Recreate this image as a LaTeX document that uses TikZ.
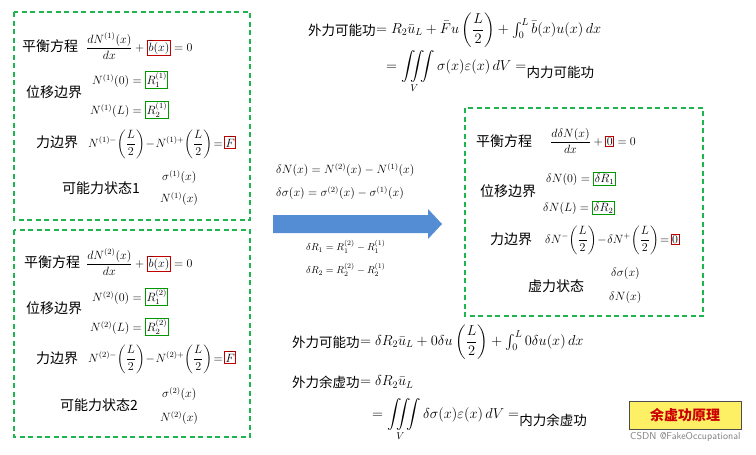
\documentclass[tikz,border=0pt]{standalone}
\usepackage{amsmath}
\usepackage{fontspec}
\newfontfamily\cjk{Noto Sans CJK SC}
\usetikzlibrary{calc}
\begin{document}
\begin{tikzpicture}[x=1pt,y=-1pt]
\definecolor{gframe}{RGB}{30,180,80}
\definecolor{arrblue}{RGB}{84,141,212}
\tikzset{
  frame/.style={draw=gframe, dash pattern=on 5pt off 3.5pt, line width=1.3pt},
  rb/.style={draw=red!75!black, line width=1pt, inner sep=1pt},
  gb/.style={draw=green!60!black, line width=1pt, inner sep=1pt},
  lab/.style={font=\cjk\fontsize{14}{16}\selectfont, anchor=west, inner sep=0pt},
  big/.style={font=\cjk\fontsize{13.5}{16}\selectfont, anchor=west, inner sep=0pt},
  eq/.style={font=\fontsize{12}{14}\selectfont, anchor=west, inner sep=0pt},
  beq/.style={font=\fontsize{14}{16}\selectfont, anchor=west, inner sep=0pt}}
\useasboundingbox (0,0) rectangle (756,455);
\fill[white] (0,0) rectangle (756,455);
% box 1
\draw[frame] (14,12) rectangle (250,220);
\node[lab] (a1) at (22,46) {平衡方程};
\node[eq] (e1) at (86,46) {$\dfrac{dN^{(1)}(x)}{dx}+\tikz[baseline]\node[rb,anchor=base]{$\bar b(x)$};=0$};
\node[lab] (a2) at (26,92) {位移边界};
\node[eq] (e2) at (92,80) {$N^{(1)}(0)=\tikz[baseline]\node[gb,anchor=base]{$R_1^{(1)}$};$};
\node[eq] (e3) at (90,110) {$N^{(1)}(L)=\tikz[baseline]\node[gb,anchor=base]{$R_2^{(1)}$};$};
\node[lab] (a3) at (36,142) {力边界};
\node[eq] (e4) at (88,144) {$N^{(1)-}\!\left(\dfrac{L}{2}\right)\!-\!N^{(1)+}\!\left(\dfrac{L}{2}\right)\!=\!\tikz[baseline]\node[rb,anchor=base]{$\bar F$};$};
\node[lab] (a4) at (62,188) {可能力状态1};
\node[eq] (e5) at (162,177) {$\sigma^{(1)}(x)$};
\node[eq] (e6) at (160,199) {$N^{(1)}(x)$};
% box 2
\draw[frame] (14,230) rectangle (250,437);
\node[lab] (b1) at (24,262) {平衡方程};
\node[eq] (f1) at (86,262) {$\dfrac{dN^{(2)}(x)}{dx}+\tikz[baseline]\node[rb,anchor=base]{$\bar b(x)$};=0$};
\node[lab] (b2) at (26,308) {位移边界};
\node[eq] (f2) at (92,297) {$N^{(2)}(0)=\tikz[baseline]\node[gb,anchor=base]{$R_1^{(2)}$};$};
\node[eq] (f3) at (90,327) {$N^{(2)}(L)=\tikz[baseline]\node[gb,anchor=base]{$R_2^{(2)}$};$};
\node[lab] (b3) at (36,358) {力边界};
\node[eq] (f4) at (88,359) {$N^{(2)-}\!\left(\dfrac{L}{2}\right)\!-\!N^{(2)+}\!\left(\dfrac{L}{2}\right)\!=\!\tikz[baseline]\node[rb,anchor=base]{$\bar F$};$};
\node[lab] (b4) at (60,405) {可能力状态2};
\node[eq] (f5) at (162,394) {$\sigma^{(2)}(x)$};
\node[eq] (f6) at (160,418) {$N^{(2)}(x)$};
% top equations
\node[big] (t1) at (308,30) {外力可能功};
\node[beq] (t2) at (t1.east) {$=R_2\bar u_L+\bar F u\left(\dfrac{L}{2}\right)+\int_0^L \bar b(x)u(x)\,dx$};
\node[beq] (t3) at (386,72) {$=\displaystyle\iiint\limits_V \sigma(x)\varepsilon(x)\,dV=$};
\node[big] (t4) at (t3.east) {内力可能功};
% middle
\node[eq] (m1) at (276,170) {$\delta N(x)=N^{(2)}(x)-N^{(1)}(x)$};
\node[eq] (m2) at (276,193) {$\delta\sigma(x)=\sigma^{(2)}(x)-\sigma^{(1)}(x)$};
\coordinate (as) at (273,224);
\coordinate (ae) at (442,224);
\fill[arrblue] ($(as)+(0,-9)$) -- (428,215) -- (428,209) -- (ae) -- (428,239) -- (428,233) -- ($(as)+(0,9)$) -- cycle;
\node[eq,font=\fontsize{10}{12}\selectfont] (m3) at (306,247) {$\delta R_1=R_1^{(2)}-R_1^{(1)}$};
\node[eq,font=\fontsize{10}{12}\selectfont] (m4) at (306,270) {$\delta R_2=R_2^{(2)}-R_2^{(1)}$};
% box 3
\draw[frame] (465,108) rectangle (703,316);
\node[lab] (c1) at (476,141) {平衡方程};
\node[eq] (g1) at (550,141) {$\dfrac{d\delta N(x)}{dx}+\tikz[baseline]\node[rb,anchor=base]{$0$};=0$};
\node[lab] (c2) at (480,191) {位移边界};
\node[eq] (g2) at (546,179) {$\delta N(0)=\tikz[baseline]\node[gb,anchor=base]{$\delta R_1$};$};
\node[eq] (g3) at (543,208) {$\delta N(L)=\tikz[baseline]\node[gb,anchor=base]{$\delta R_2$};$};
\node[lab] (c3) at (490,239) {力边界};
\node[eq] (g4) at (545,240) {$\delta N^{-}\!\left(\dfrac{L}{2}\right)\!-\!\delta N^{+}\!\left(\dfrac{L}{2}\right)\!=\!\tikz[baseline]\node[rb,anchor=base]{$0$};$};
\node[lab] (c4) at (528,286) {虚力状态};
\node[eq] (g5) at (611,273) {$\delta\sigma(x)$};
\node[eq] (g6) at (609,297) {$\delta N(x)$};
% bottom equations
\node[big] (u1) at (292,342) {外力可能功};
\node[beq] (u2) at (u1.east) {$=\delta R_2\bar u_L+0\delta u\left(\dfrac{L}{2}\right)+\int_0^L 0\delta u(x)\,dx$};
\node[big] (u3) at (292,382) {外力余虚功};
\node[beq] (u4) at (u3.east) {$=\delta R_2\bar u_L$};
\node[beq] (u5) at (372,420) {$=\displaystyle\iiint\limits_V \delta\sigma(x)\varepsilon(x)\,dV=$};
\node[big] (u6) at (u5.east) {内力余虚功};
\node[draw=black!70, fill=yellow!90!orange!60, font=\cjk\bfseries\fontsize{14}{16}\selectfont, text=red!80!black, minimum width=112pt, minimum height=28pt] (y) at (685,415) {余虚功原理};
\node[font=\fontsize{10}{12}\selectfont\sffamily, text=gray, anchor=east] (wm) at (744,437) {CSDN @FakeOccupational};
\end{tikzpicture}
\end{document}
